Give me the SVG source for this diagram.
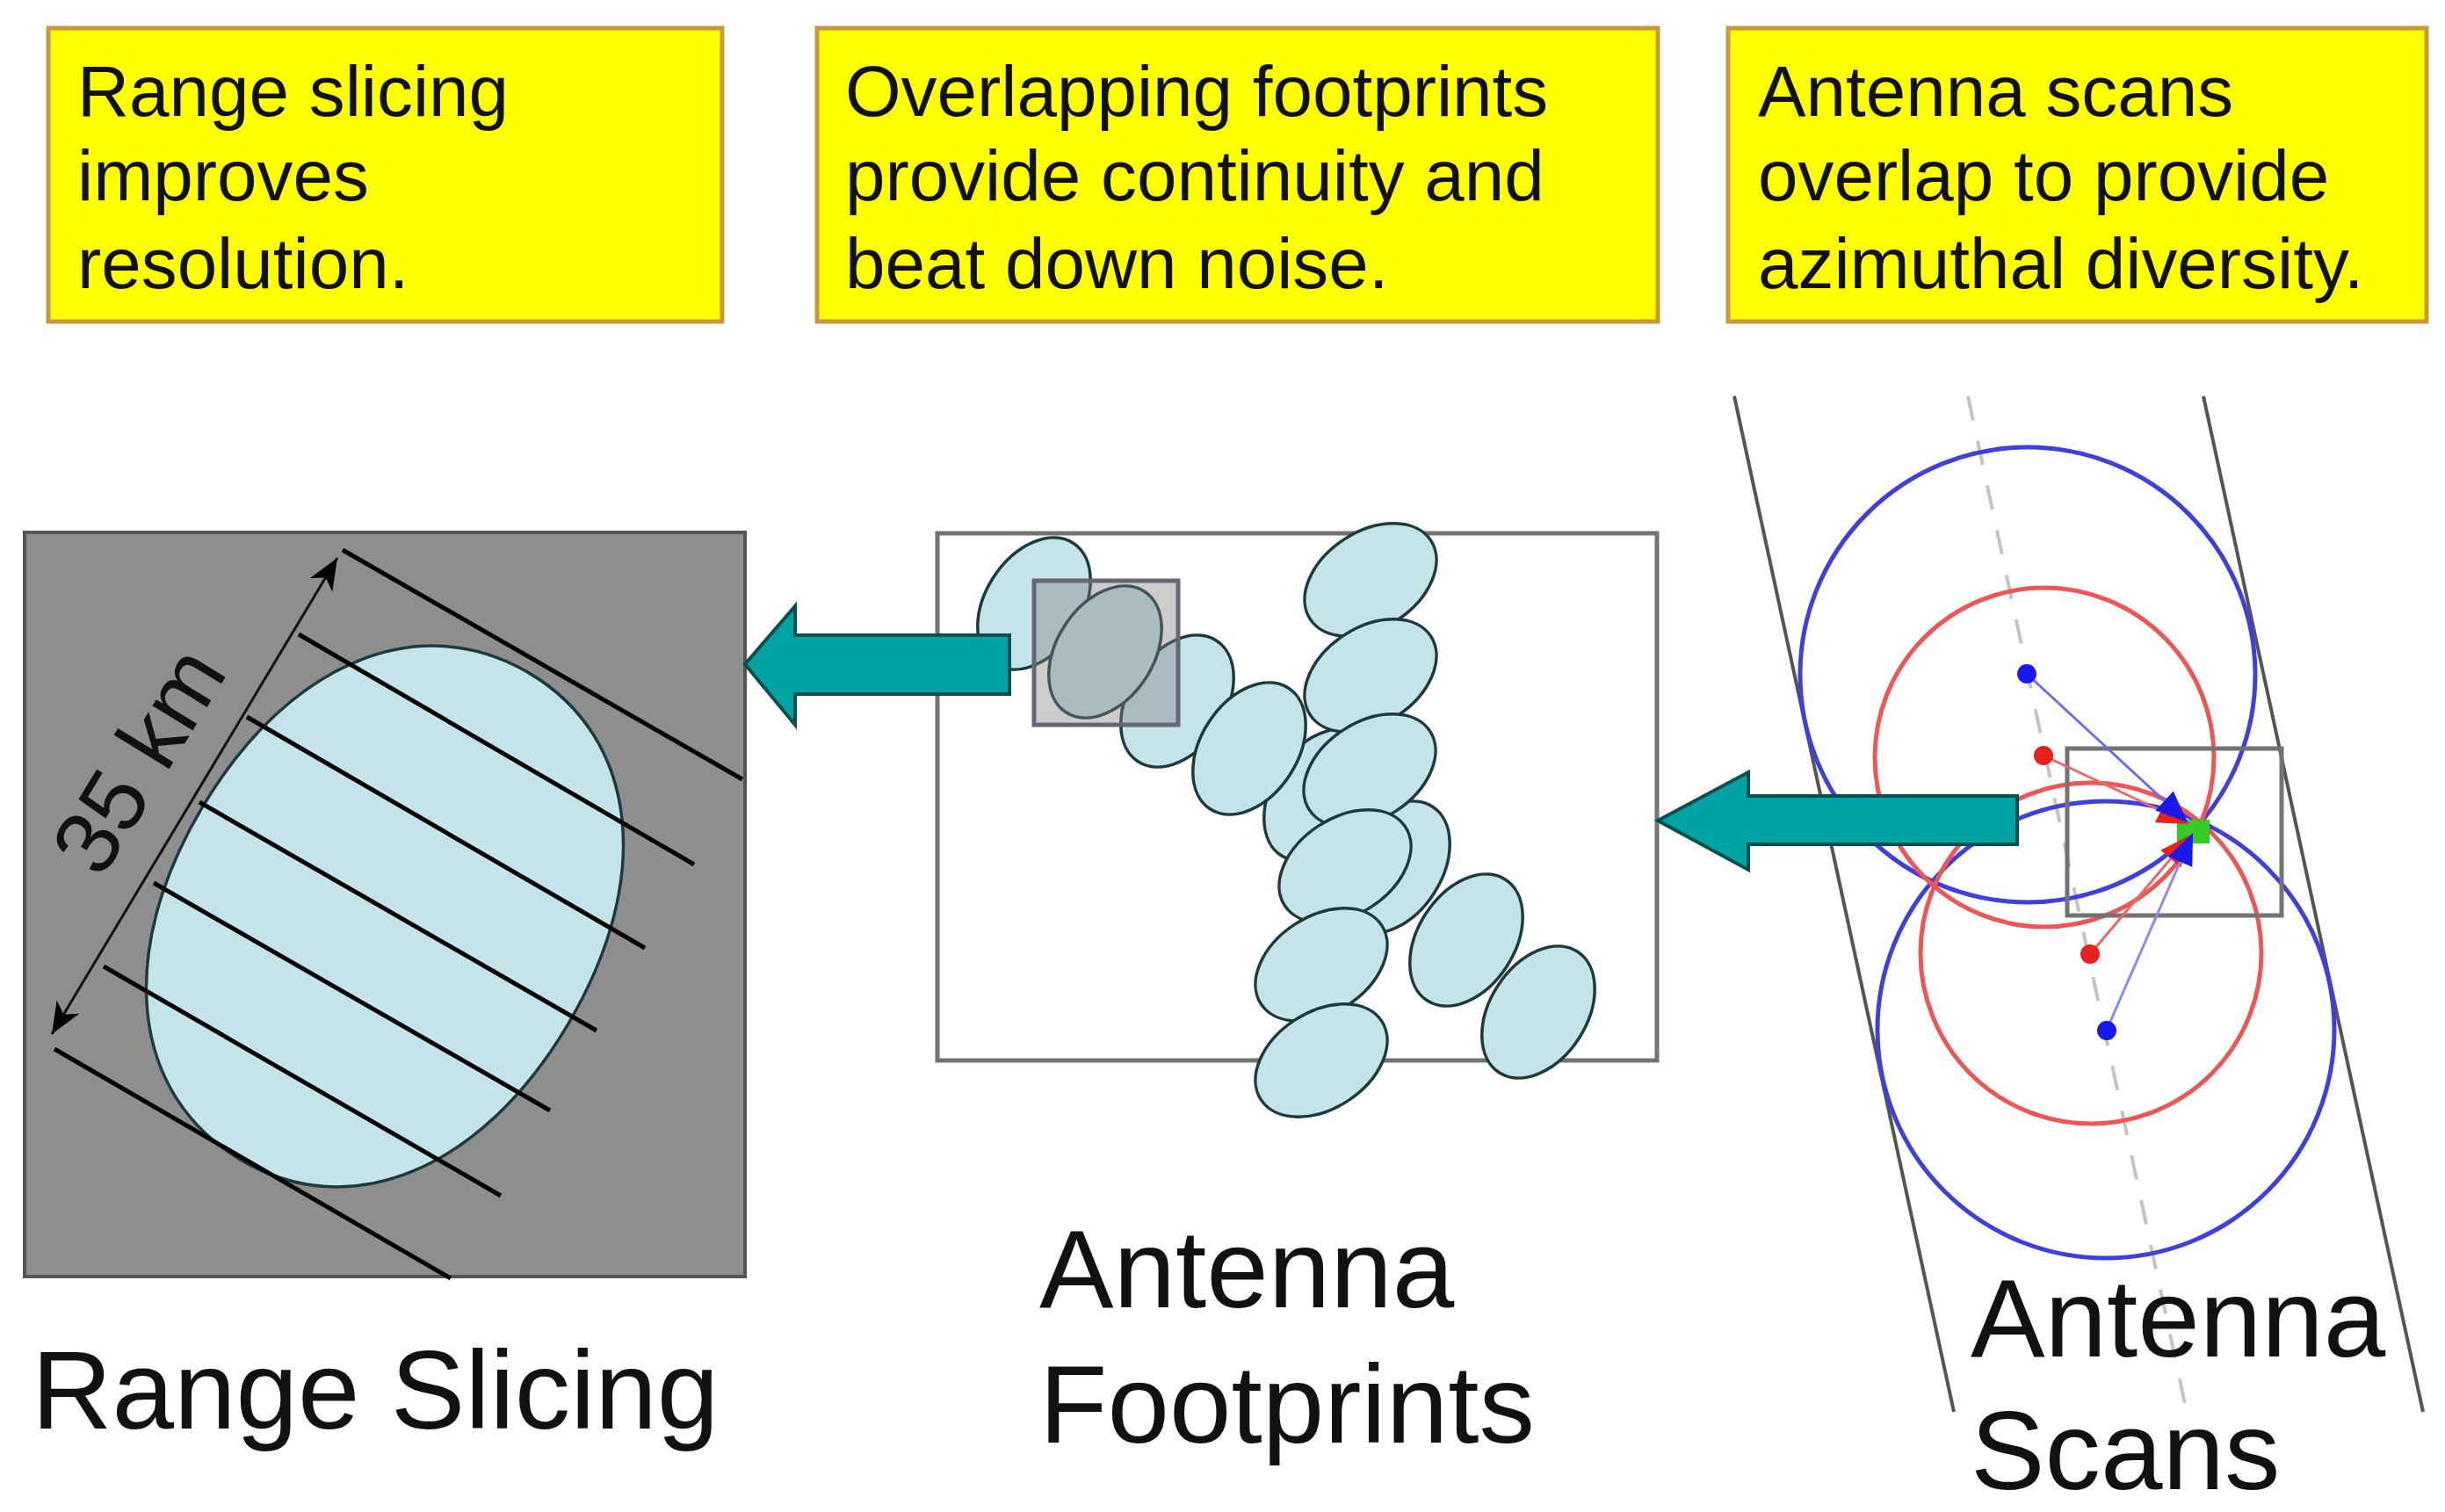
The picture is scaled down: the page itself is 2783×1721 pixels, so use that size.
<svg xmlns="http://www.w3.org/2000/svg" width="2783" height="1721" viewBox="0 0 2783 1721">
<style>
text{font-family:"Liberation Sans",Arial,sans-serif;fill:#111}
.note{font-size:81.8px}
.big{font-size:126.8px}
.box{fill:#ffff00;stroke:#c8983c;stroke-width:5}
.fp{fill:#c5e4e9;stroke:#1f3a3d;stroke-width:3.5}
.slice{stroke:#000;stroke-width:5;fill:none}
.arrow{fill:#00a3a3;stroke:#04504f;stroke-width:4}
.blue{fill:none;stroke:#3f3fe0;stroke-width:5}
.red{fill:none;stroke:#ee5555;stroke-width:5}
.frame{fill:none;stroke:#737373;stroke-width:5}
</style>
<defs>
<ellipse id="a" rx="82" ry="55" transform="rotate(-57)"/>
<ellipse id="b" rx="82" ry="55" transform="rotate(-33)"/>
<marker id="bh" markerUnits="userSpaceOnUse" markerWidth="40" markerHeight="34" refX="36" refY="17" orient="auto"><path d="M0 2L36 17L0 32Z" fill="#1a1aee"/></marker>
<marker id="rh" markerUnits="userSpaceOnUse" markerWidth="40" markerHeight="34" refX="36" refY="17" orient="auto"><path d="M0 2L36 17L0 32Z" fill="#e8201c"/></marker>
<marker id="k" markerUnits="userSpaceOnUse" markerWidth="44" markerHeight="36" refX="38" refY="18" orient="auto-start-reverse"><path d="M2 3L38 18L2 33L12 18Z" fill="#000"/></marker>
</defs>
<rect width="2783" height="1721" fill="#fff"/>

<g id="note-range"><rect class="box" x="55" y="32" width="767" height="334"/>
<text class="note" x="88" y="132">Range slicing</text><text class="note" x="88" y="228">improves</text><text class="note" x="88" y="328">resolution.</text></g>
<g id="note-footprints"><rect class="box" x="930" y="32" width="957" height="334"/>
<text class="note" x="962" y="132">Overlapping footprints</text><text class="note" x="962" y="228">provide continuity and</text><text class="note" x="962" y="328">beat down noise.</text></g>
<g id="note-scans"><rect class="box" x="1967" y="32" width="795" height="334"/>
<text class="note" x="2001" y="132">Antenna scans</text><text class="note" x="2001" y="228">overlap to provide</text><text class="note" x="2001" y="328">azimuthal diversity.</text></g>

<g id="range-slicing">
<rect x="28" y="606" width="820" height="847" fill="#8e8e8e" stroke="#555" stroke-width="4"/>
<path transform="translate(438 1043) rotate(-59.3)" d="M322 0C322 145 193 242 0 242C-193 242 -322 145 -322 0C-322 -145 -193 -242 0 -242C193 -242 322 -145 322 0Z" fill="#c5e4e9" stroke="#1f3a3d" stroke-width="3.5"/>
<path class="slice" d="M390 626L845 887M340 722L790 984M281 816L734 1079M227 913L679 1173M175 1005L626 1264M118 1100L570 1361M62 1194L513 1455"/>
<path d="M384 635L59 1177" fill="none" stroke="#111" stroke-width="3" marker-start="url(#k)" marker-end="url(#k)"/>
<text font-size="102" transform="translate(115 1002) rotate(-58.5)">35 km</text>
<text class="big" x="36" y="1626">Range Slicing</text>
</g>

<g id="antenna-footprints">
<rect class="frame" x="1067" y="607" width="819" height="600"/>
<g class="fp">
<use href="#a" x="1177" y="687"/>
<use href="#a" x="1340" y="798"/>
<use href="#a" x="1258" y="742"/>
<use href="#a" x="1503" y="905"/>
<use href="#a" x="1422" y="852"/>
<use href="#b" x="1560" y="660"/>
<use href="#b" x="1560" y="769"/>
<use href="#a" x="1586" y="987"/>
<use href="#b" x="1559" y="877"/>
<use href="#b" x="1531" y="986"/>
<use href="#a" x="1669" y="1070"/>
<use href="#a" x="1751" y="1152"/>
<use href="#b" x="1504" y="1098"/>
<use href="#b" x="1504" y="1207"/>
</g>
<rect x="1177" y="661" width="164" height="164" fill="#808080" fill-opacity=".4" stroke="#667" stroke-width="5"/>
<text class="big" x="1183" y="1488">Antenna</text>
<text class="big" x="1183" y="1642">Footprints</text>
</g>

<g id="antenna-scans">
<path d="M1974 451L2224 1607M2508 451L2758 1607" fill="none" stroke="#555" stroke-width="4"/>
<path d="M2240 451L2489 1607" fill="none" stroke="#c4c4c4" stroke-width="4" stroke-dasharray="28 24"/>
<circle class="blue" cx="2308" cy="768" r="259"/>
<circle class="blue" cx="2397" cy="1172" r="260"/>
<circle class="red" cx="2327" cy="862" r="193"/>
<circle class="red" cx="2380" cy="1085" r="194"/>
<rect x="2478" y="933" width="37" height="27" fill="#33cc22"/>
<rect class="frame" x="2353" y="852" width="244" height="190"/>
<g fill="none" stroke-width="3">
<path d="M2326 860L2492 938" stroke="#ee6666" marker-end="url(#rh)"/>
<path d="M2379 1086L2494 950" stroke="#ee6666" marker-end="url(#rh)"/>
<path d="M2307 767L2490 936" stroke="#6a6aee" marker-end="url(#bh)"/>
<path d="M2398 1172L2496 948" stroke="#8a8af0" marker-end="url(#bh)"/>
</g>
<circle cx="2307" cy="767" r="11" fill="#1a1aee"/>
<circle cx="2326" cy="860" r="11" fill="#e8201c"/>
<circle cx="2379" cy="1086" r="11" fill="#e8201c"/>
<circle cx="2398" cy="1173" r="11" fill="#1a1aee"/>
<text class="big" x="2243" y="1544">Antenna</text>
<text class="big" x="2243" y="1695">Scans</text>
</g>

<g id="connectors">
<path class="arrow" d="M2296 906H1990V879L1887 934L1990 990V961H2296Z"/>
<path class="arrow" d="M1149 723H905V690L848 756L905 825V790H1149Z"/>
</g>
</svg>
